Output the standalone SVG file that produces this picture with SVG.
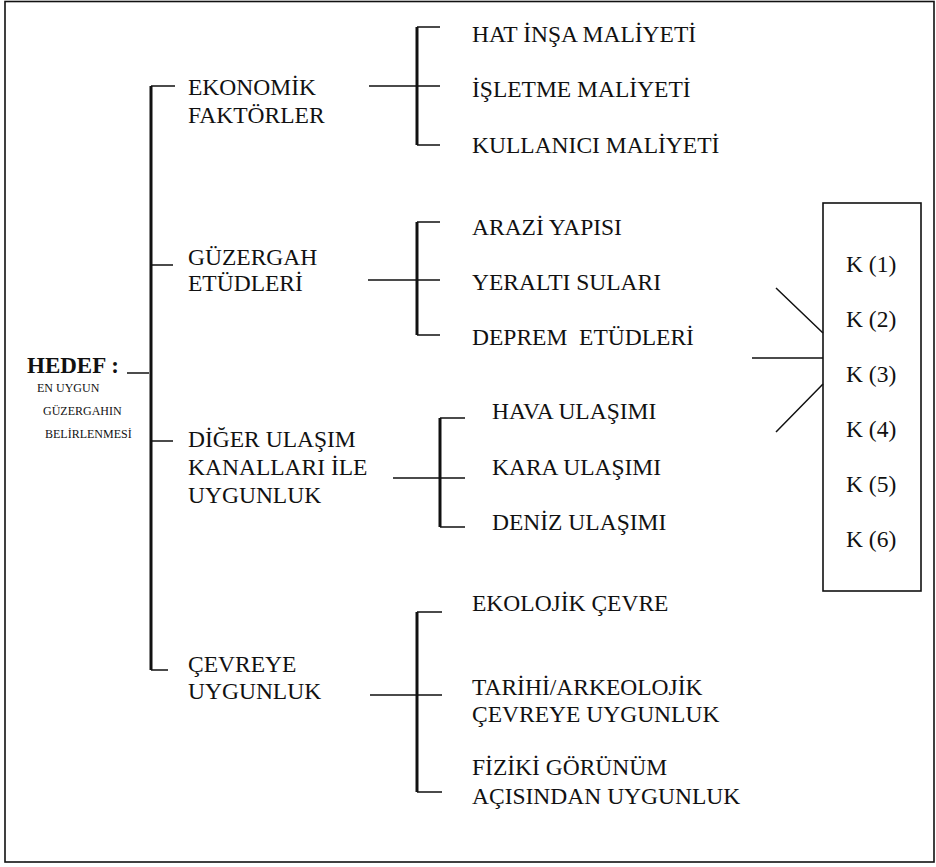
<svg xmlns="http://www.w3.org/2000/svg" width="936" height="867" viewBox="0 0 936 867">
  <style>
    text { font-family: "Liberation Serif", "Times New Roman", serif; fill: #111; }
    .lbl { font-size: 23.5px; }
    .goal { font-size: 23px; font-weight: bold; }
    .small { font-size: 12px; }
    .thin { fill: none; stroke: #111; stroke-width: 1.5; }
    .thick { fill: none; stroke: #111; stroke-width: 3; }
    .frame { fill: none; stroke: #111; stroke-width: 1.6; }
  </style>

  <!-- outer frame -->
  <rect class="frame" x="5" y="1.5" width="929" height="860.5"/>

  <!-- connectors -->
  <g id="connectors">
    <!-- main tree bracket -->
    <path class="thick" d="M151,86 V670"/>
    <path class="thin" d="M151,86 H175 M151,265 H173 M151,441 H173 M151,670 H168"/>
    <path class="thin" d="M127,373 H149"/>

    <!-- economic factors -->
    <path class="thick" d="M417,27 V145"/>
    <path class="thin" d="M417,27 H440 M369,86 H440 M417,145 H440"/>

    <!-- route studies -->
    <path class="thick" d="M417,222 V335"/>
    <path class="thin" d="M417,222 H440 M368,280 H440 M417,335 H440"/>

    <!-- other transport channels -->
    <path class="thick" d="M440,418 V527"/>
    <path class="thin" d="M440,418 H465 M393,478 H465 M440,527 H465"/>

    <!-- environment -->
    <path class="thick" d="M417,612 V792"/>
    <path class="thin" d="M417,612 H442 M370,695 H442 M417,792 H442"/>

    <!-- links into criteria box -->
    <path class="thin" d="M776,288 L823,333 M752,358 H823 M823,384 L776,432"/>
  </g>

  <g id="goal">
    <text class="goal" x="27" y="373">HEDEF :</text>
    <text class="small" x="37" y="392">EN UYGUN</text>
    <text class="small" x="43" y="415">GÜZERGAHIN</text>
    <text class="small" x="45" y="438">BELİRLENMESİ</text>
  </g>

  <g id="economic">
    <text class="lbl" x="188" y="95">EKONOMİK</text>
    <text class="lbl" x="188" y="123">FAKTÖRLER</text>
  </g>
  <g id="route">
    <text class="lbl" x="188" y="265">GÜZERGAH</text>
    <text class="lbl" x="188" y="291">ETÜDLERİ</text>
  </g>
  <g id="transport">
    <text class="lbl" x="188" y="447">DİĞER ULAŞIM</text>
    <text class="lbl" x="188" y="475">KANALLARI İLE</text>
    <text class="lbl" x="188" y="503">UYGUNLUK</text>
  </g>
  <g id="environment">
    <text class="lbl" x="188" y="672">ÇEVREYE</text>
    <text class="lbl" x="188" y="699">UYGUNLUK</text>
  </g>

  <g id="economic-items">
    <text class="lbl" x="472" y="42">HAT İNŞA MALİYETİ</text>
    <text class="lbl" x="472" y="97">İŞLETME MALİYETİ</text>
    <text class="lbl" x="472" y="153">KULLANICI MALİYETİ</text>
  </g>
  <g id="route-items">
    <text class="lbl" x="472" y="235">ARAZİ YAPISI</text>
    <text class="lbl" x="472" y="290">YERALTI SULARI</text>
    <text class="lbl" x="472" y="345" style="white-space:pre">DEPREM  ETÜDLERİ</text>
  </g>
  <g id="transport-items">
    <text class="lbl" x="492" y="419">HAVA ULAŞIMI</text>
    <text class="lbl" x="492" y="475">KARA ULAŞIMI</text>
    <text class="lbl" x="492" y="530">DENİZ ULAŞIMI</text>
  </g>
  <g id="environment-items">
    <text class="lbl" x="472" y="611">EKOLOJİK ÇEVRE</text>
    <text class="lbl" x="472" y="695">TARİHİ/ARKEOLOJİK</text>
    <text class="lbl" x="472" y="722">ÇEVREYE UYGUNLUK</text>
    <text class="lbl" x="472" y="775">FİZİKİ GÖRÜNÜM</text>
    <text class="lbl" x="472" y="804">AÇISINDAN UYGUNLUK</text>
  </g>

  <g id="criteria">
    <rect class="frame" x="823" y="203" width="98" height="388"/>
    <text class="lbl" x="846" y="272">K (1)</text>
    <text class="lbl" x="846" y="327">K (2)</text>
    <text class="lbl" x="846" y="382">K (3)</text>
    <text class="lbl" x="846" y="437">K (4)</text>
    <text class="lbl" x="846" y="492">K (5)</text>
    <text class="lbl" x="846" y="547">K (6)</text>
  </g>
</svg>
